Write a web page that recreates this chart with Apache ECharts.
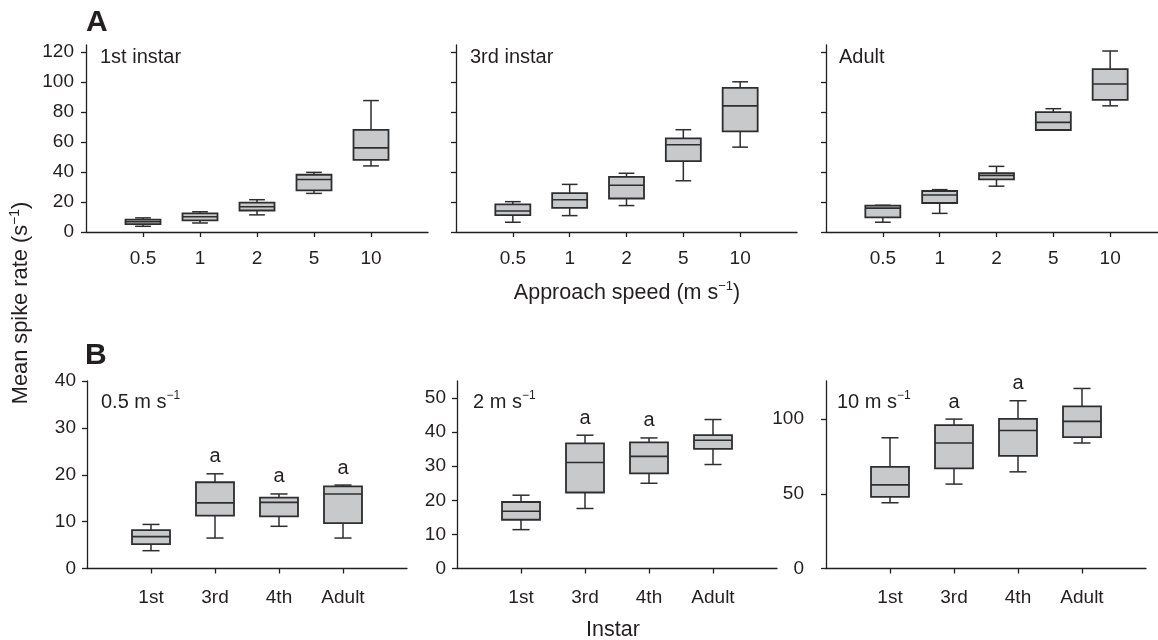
<!DOCTYPE html>
<html>
<head>
<meta charset="utf-8">
<script src="https://cdn.jsdelivr.net/npm/echarts@6/dist/echarts.min.js"></script>
<style>
  html, body { margin: 0; padding: 0; background: #ffffff; }
  #chart { width: 1158px; height: 640px; }
</style>
</head>
<body>
<div id="chart"></div>
<script>
// ---- Data: each box is [min, Q1, median, Q3, max] of mean spike rate (s^-1) ----

// Panel A: approach speed (m s^-1) within each developmental stage
const speeds = ['0.5', '1', '2', '5', '10'];
const firstInstarBySpeed = [[3.8, 5.2, 6.8, 8.2, 9.4], [6.0, 7.8, 10.2, 12.4, 13.5], [11.4, 14.3, 16.8, 19.5, 21.5], [25.7, 27.7, 35.0, 38.1, 39.7], [44.0, 48.0, 56.0, 68.0, 87.5]];
const thirdInstarBySpeed = [[6.5, 11.3, 14.0, 18.4, 20.2], [10.9, 16.0, 21.5, 25.9, 31.7], [17.6, 22.3, 31.1, 36.7, 39.1], [34.1, 47.2, 58.1, 62.3, 68.1], [56.5, 67.0, 84.0, 96.0, 100.0]];
const adultBySpeed = [[6.5, 9.7, 15.9, 17.5, 17.8], [12.4, 19.3, 24.6, 27.3, 28.2], [30.5, 35.1, 37.6, 39.1, 43.7], [67.9, 67.9, 73.0, 79.8, 82.1], [84.0, 88.0, 98.5, 108.5, 120.5]];
const speedTicks = [0, 20, 40, 60, 80, 100, 120];

// Panel B: instar comparison at fixed approach speeds
const instars = ['1st', '3rd', '4th', 'Adult'];
const at05 = [[3.8, 5.2, 6.8, 8.2, 9.4], [6.5, 11.3, 14.0, 18.4, 20.2], [9.0, 11.1, 14.1, 15.1, 15.9], [6.5, 9.7, 15.9, 17.5, 17.8]];
const at2 = [[11.4, 14.3, 16.8, 19.5, 21.5], [17.6, 22.3, 31.1, 36.7, 39.1], [25.0, 27.9, 32.9, 37.0, 38.3], [30.5, 35.1, 37.6, 39.1, 43.7]];
const at10 = [[44.0, 48.0, 56.0, 68.0, 87.5], [56.5, 67.0, 84.0, 96.0, 100.0], [64.7, 75.4, 92.4, 100.2, 112.3], [84.0, 88.0, 98.5, 108.5, 120.5]];
const letters05 = ['', 'a', 'a', 'a'];
const letters2 = ['', 'a', 'a', ''];
const letters10 = ['', 'a', 'a', ''];
const ticks05 = [0, 10, 20, 30, 40];
const ticks2 = [0, 10, 20, 30, 40, 50];
const ticks10 = [0, 50, 100];

// ---- Styling ----
const INK = '#231f20';
const FONT = '"Liberation Sans", Arial, Helvetica, sans-serif';
const BOX_FILL = '#c8c9cb';
const BOX_STROKE = '#2e2e2e';

const panels = [
  { left: 86,  top: 45,  width: 342, height: 187,   max: 124.5, cats: speeds,  boxes: firstInstarBySpeed, ticks: speedTicks, yLabels: true,  yMargin: 12, boxW: 35, letters: null, xMargin: 17 },
  { left: 456, top: 45,  width: 341, height: 187,   max: 124.5, cats: speeds,  boxes: thirdInstarBySpeed, ticks: speedTicks, yLabels: false, yMargin: 12, boxW: 35, letters: null, xMargin: 17 },
  { left: 826, top: 45,  width: 341, height: 187,   max: 124.5, cats: speeds,  boxes: adultBySpeed,       ticks: speedTicks, yLabels: false, yMargin: 12, boxW: 35, letters: null, xMargin: 17 },
  { left: 87,  top: 381, width: 320, height: 187.5, max: 40,    cats: instars, boxes: at05,  ticks: ticks05, yLabels: true, yMargin: 11, boxW: 38, letters: letters05, xMargin: 20 },
  { left: 457, top: 381, width: 320, height: 187.5, max: 55,    cats: instars, boxes: at2,   ticks: ticks2,  yLabels: true, yMargin: 11, boxW: 38, letters: letters2,  xMargin: 20 },
  { left: 826, top: 381, width: 320, height: 187.5, max: 125.5, cats: instars, boxes: at10,  ticks: ticks10, yLabels: true, yMargin: 22, boxW: 38, letters: letters10, xMargin: 20 }
];

// Box-and-whisker glyph drawn through the panel's own axes
function makeBoxRenderer(boxW, letters) {
  const capW = boxW * 0.45;
  return function (params, api) {
    const xi = api.value(0);
    const lo = api.coord([xi, api.value(1)]);
    const q1 = api.coord([xi, api.value(2)]);
    const md = api.coord([xi, api.value(3)]);
    const q3 = api.coord([xi, api.value(4)]);
    const hi = api.coord([xi, api.value(5)]);
    const cx = lo[0];
    const wStyle = { stroke: BOX_STROKE, lineWidth: 1.5, fill: null };
    const children = [
      { type: 'line', shape: { x1: cx, y1: hi[1], x2: cx, y2: q3[1] }, style: wStyle },
      { type: 'line', shape: { x1: cx, y1: q1[1], x2: cx, y2: lo[1] }, style: wStyle },
      { type: 'line', shape: { x1: cx - capW / 2, y1: hi[1], x2: cx + capW / 2, y2: hi[1] }, style: wStyle },
      { type: 'line', shape: { x1: cx - capW / 2, y1: lo[1], x2: cx + capW / 2, y2: lo[1] }, style: wStyle },
      { type: 'rect', shape: { x: cx - boxW / 2, y: q3[1], width: boxW, height: q1[1] - q3[1] },
        style: { fill: BOX_FILL, stroke: BOX_STROKE, lineWidth: 1.8 } },
      { type: 'line', shape: { x1: cx - boxW / 2, y1: md[1], x2: cx + boxW / 2, y2: md[1] },
        style: { stroke: BOX_STROKE, lineWidth: 1.6 } }
    ];
    const letter = letters ? letters[params.dataIndex] : '';
    if (letter) {
      children.push({ type: 'text', x: cx, y: hi[1] - 17,
        style: { text: letter, font: '20px ' + FONT, fill: INK, align: 'center', verticalAlign: 'middle' } });
    }
    return { type: 'group', children: children };
  };
}

const grid = [], xAxis = [], yAxis = [], series = [];
panels.forEach(function (p, i) {
  grid.push({ left: p.left, top: p.top, width: p.width, height: p.height, outerBoundsMode: 'none', containLabel: false });
  xAxis.push({
    type: 'category', gridIndex: i, boundaryGap: false,
    data: [''].concat(p.cats, ['']),
    axisLine: { show: true, lineStyle: { color: INK, width: 1.3 } },
    axisTick: { show: true, length: 5, interval: function (idx, val) { return val !== ''; },
      lineStyle: { color: INK, width: 1.3 } },
    axisLabel: { interval: 0, margin: p.xMargin, fontSize: 19, fontFamily: FONT, color: INK },
    splitLine: { show: false }
  });
  yAxis.push({
    type: 'value', gridIndex: i, min: 0, max: p.max,
    axisLine: { show: true, lineStyle: { color: INK, width: 1.3 } },
    axisTick: { show: true, length: 5, customValues: p.ticks, lineStyle: { color: INK, width: 1.3 } },
    axisLabel: { show: p.yLabels, customValues: p.ticks, margin: p.yMargin, fontSize: 19, fontFamily: FONT, color: INK },
    splitLine: { show: false }
  });
  series.push({
    type: 'custom', xAxisIndex: i, yAxisIndex: i,
    renderItem: makeBoxRenderer(p.boxW, p.letters),
    encode: { x: 0, y: [1, 2, 3, 4, 5] },
    data: p.boxes.map(function (b, k) { return [k + 1].concat(b); }),
    silent: true, animation: false
  });
});

function label(x, y, parts, opts) {
  opts = opts || {};
  const size = opts.size || 20;
  return {
    type: 'text', x: x, y: y, rotation: opts.rotation || 0, silent: true,
    style: {
      text: parts, fill: INK, font: (opts.bold ? 'bold ' : '') + size + 'px ' + FONT,
      align: opts.align || 'left', verticalAlign: 'middle',
      rich: {
        m: { fontSize: size, fontFamily: FONT, fontWeight: opts.bold ? 'bold' : 'normal', color: INK, lineHeight: size + 4 },
        sup: { fontSize: Math.round(size * 0.62), fontFamily: FONT, color: INK, verticalAlign: 'top', lineHeight: 12 }
      }
    }
  };
}

const graphic = [
  label(86, 23, '{m|A}', { size: 30, bold: true }),
  label(85, 356, '{m|B}', { size: 30, bold: true }),
  label(100, 57, '{m|1st instar}'),
  label(470, 57, '{m|3rd instar}'),
  label(839, 57, '{m|Adult}'),
  label(101, 402, '{m|0.5 m s}{sup|−1}'),
  label(473, 402, '{m|2 m s}{sup|−1}'),
  label(837, 402, '{m|10 m s}{sup|−1}'),
  label(627, 293, '{m|Approach speed (m s}{sup|−1}{m|)}', { align: 'center', size: 21.5 }),
  label(613, 630, '{m|Instar}', { align: 'center', size: 21.5 }),
  label(21, 303, '{m|Mean spike rate (s}{sup|−1}{m|)}', { align: 'center', rotation: Math.PI / 2, size: 21.8 })
];

const chart = echarts.init(document.getElementById('chart'), null, { renderer: 'canvas' });
chart.setOption({
  backgroundColor: '#ffffff',
  animation: false,
  grid: grid, xAxis: xAxis, yAxis: yAxis, series: series,
  graphic: graphic
});
</script>
</body>
</html>
